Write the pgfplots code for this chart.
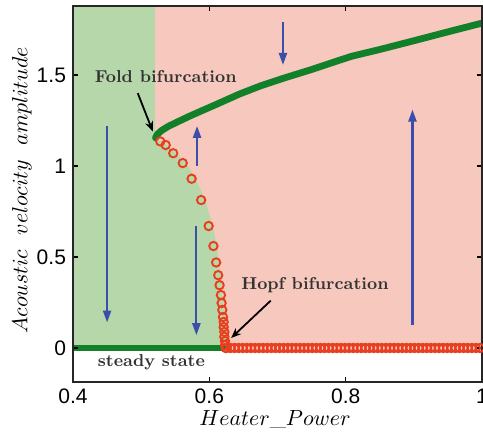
\documentclass[border=0pt]{standalone}
\usepackage{pgfplots}
\pgfplotsset{compat=1.18}
\usepackage{fontspec}
\setsansfont{Liberation Sans}
\usetikzlibrary{arrows.meta}
\definecolor{gfill}{RGB}{182,215,169}
\definecolor{pfill}{RGB}{246,200,190}
\definecolor{dgreen}{RGB}{18,128,40}
\definecolor{ured}{RGB}{232,62,30}
\definecolor{ablue}{RGB}{58,78,170}
\begin{document}
\begin{tikzpicture}
\begin{axis}[
  scale only axis,
  width=204.5pt, height=188pt,
  xmin=0.4, xmax=1.0, ymin=-0.187, ymax=1.879,
  xtick={0.4,0.6,0.8,1}, ytick={0,0.5,1,1.5},
  tick align=inside, tick pos=both,
  major tick length=2.5pt,
  axis line style={line width=0.9pt, black!85},
  tick style={line width=0.7pt, black},
  axis on top,
  ticklabel style={font=\sffamily\fontsize{10.5}{12}\selectfont},
  /pgf/number format/assume math mode=true,
  xlabel={$Heater\_Power$},
  ylabel={$Acoustic\ \ velocity\ \ amplitude$},
  label style={font=\fontsize{11}{13}\selectfont},
  xlabel style={at={(axis description cs:0.494,-0.1)}, anchor=center},
  ylabel style={at={(axis description cs:-0.125,0.51)}, anchor=center},
  clip=true,
]
% background regions
\addplot[draw=none, fill=pfill] coordinates {(0.52,-0.016) (0.52,1.95) (1.05,1.95) (1.05,-0.016)} -- cycle;
\addplot[draw=none, fill=gfill] coordinates {(0.38,-0.016) (0.38,1.95) (0.52,1.95) (0.52,1.155) (0.536,1.12) (0.55,1.075) (0.566,1.016) (0.58,0.93) (0.594,0.813) (0.605,0.67) (0.611,0.56) (0.614,0.47) (0.617,0.40) (0.619,0.30) (0.622,0.20) (0.624,0.10) (0.626,-0.016)} -- cycle;
% unstable branch
\addplot[only marks, mark=o, mark size=2.1pt, mark options={draw=ured, fill=white, line width=0.95pt}] coordinates {
(0.528,1.135) (0.536,1.115) (0.547,1.07) (0.561,1.016) (0.574,0.93) (0.588,0.813) (0.599,0.67) (0.606,0.56) (0.610,0.47) (0.613,0.40) (0.615,0.345) (0.617,0.291) (0.618,0.247) (0.619,0.209) (0.620,0.17) (0.621,0.143) (0.621,0.115) (0.622,0.088) (0.622,0.062) (0.623,0.038) (0.623,0.015) (0.624,0.0)
(0.625,0) (0.631,0) (0.637,0) (0.643,0) (0.649,0) (0.655,0) (0.661,0) (0.667,0) (0.673,0) (0.679,0) (0.685,0) (0.691,0) (0.697,0) (0.703,0) (0.709,0) (0.715,0) (0.721,0) (0.727,0) (0.733,0) (0.739,0) (0.745,0) (0.751,0) (0.757,0) (0.763,0) (0.769,0) (0.775,0) (0.781,0) (0.787,0) (0.793,0) (0.799,0) (0.805,0) (0.811,0) (0.817,0) (0.823,0) (0.829,0) (0.835,0) (0.841,0) (0.847,0) (0.853,0) (0.859,0) (0.865,0) (0.871,0) (0.877,0) (0.883,0) (0.889,0) (0.895,0) (0.901,0) (0.907,0) (0.913,0) (0.919,0) (0.925,0) (0.931,0) (0.937,0) (0.943,0) (0.949,0) (0.955,0) (0.961,0) (0.967,0) (0.973,0) (0.979,0) (0.985,0) (0.991,0) (0.997,0) (1.003,0)};
% stable branches
\addplot[dgreen, line width=3.4pt, line cap=round, line join=round] coordinates {
(0.521,1.155) (0.524,1.175) (0.53,1.195) (0.54,1.218) (0.552,1.24) (0.57,1.272) (0.585,1.297) (0.61,1.338) (0.644,1.395) (0.675,1.44) (0.707,1.48) (0.75,1.53) (0.79,1.58) (0.809,1.603) (0.85,1.64) (0.9,1.688) (0.95,1.737) (1.0,1.785)};
\addplot[dgreen, line width=3.4pt, line cap=round] coordinates {(0.39,0) (0.620,0)};
% phase arrows
\addplot[ablue, line width=1.1pt, -{Triangle[length=6pt,width=4pt]}] coordinates {(0.45,1.22) (0.45,0.14)};
\addplot[ablue, line width=1.1pt, -{Triangle[length=6pt,width=4pt]}] coordinates {(0.581,0.67) (0.581,0.07)};
\addplot[ablue, line width=1.1pt, -{Triangle[length=6pt,width=4pt]}] coordinates {(0.582,1.0) (0.582,1.22)};
\addplot[ablue, line width=1.1pt, -{Triangle[length=6pt,width=4pt]}] coordinates {(0.708,1.79) (0.708,1.555)};
\addplot[ablue, line width=1.1pt, -{Triangle[length=6pt,width=4pt]}] coordinates {(0.898,0.126) (0.898,1.31)};
% annotation arrows
\addplot[black, line width=0.9pt, -{Stealth[length=5pt,width=4pt]}] coordinates {(0.495,1.40) (0.517,1.19)};
\addplot[black, line width=0.9pt, -{Stealth[length=5pt,width=4pt]}] coordinates {(0.69,0.26) (0.632,0.055)};
\node[font=\fontsize{8.6}{10}\selectfont\bfseries, text=black!80] at (axis cs:0.536,1.489) {Fold bifurcation};
\node[font=\fontsize{8.6}{10}\selectfont\bfseries, text=black!80] at (axis cs:0.755,0.346) {Hopf bifurcation};
\node[font=\fontsize{8.6}{10}\selectfont\bfseries, text=black!80] at (axis cs:0.515,-0.077) {steady state};
\end{axis}
\pgfresetboundingbox
\path ([xshift=-36.5pt,yshift=-26.5pt]current axis.south west) rectangle ([xshift=0.5pt,yshift=3pt]current axis.north east);
\end{tikzpicture}
\end{document}
